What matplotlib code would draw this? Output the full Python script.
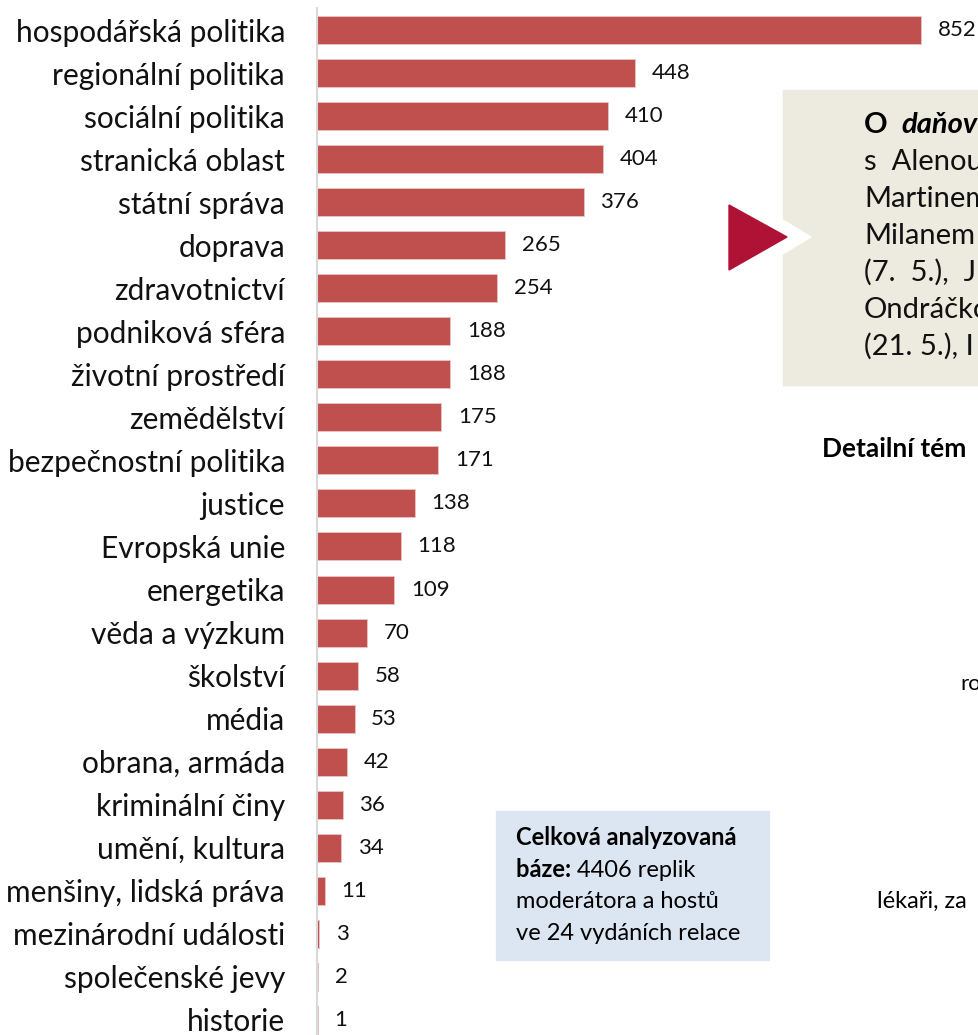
import numpy as np
import matplotlib.pyplot as plt
import matplotlib.patches as mpatch

plt.rcParams['font.family'] = ['Lato', 'DejaVu Sans']

## data
topics = ['hospodářská politika', 'regionální politika', 'sociální politika',
          'stranická oblast', 'státní správa', 'doprava', 'zdravotnictví',
          'podniková sféra', 'životní prostředí', 'zemědělství',
          'bezpečnostní politika', 'justice', 'Evropská unie', 'energetika',
          'věda a výzkum', 'školství', 'média', 'obrana, armáda',
          'kriminální činy', 'umění, kultura', 'menšiny, lidská práva',
          'mezinárodní události', 'společenské jevy', 'historie']
counts = [852, 448, 410, 404, 376, 265, 254, 188, 188, 175, 171, 138, 118,
          109, 70, 58, 53, 42, 36, 34, 11, 3, 2, 1]

# the note box runs off the right edge of the picture; only the visible part is kept
box_lines = ['s  Alenou', 'Martinem', 'Milanem', '(7.  5.),  J', 'Ondráčko', '(21. 5.), I']
base_lines = ['moderátora a hostů', 've 24 vydáních relace']

W, H = 979, 1035
fig = plt.figure(figsize=(W / 100, H / 100), dpi=100)


def fx(px):
    return px / W


def fy(py):
    return 1 - py / H


## bar chart
ax = fig.add_axes([fx(317), 0, fx(W - 317), fy(8)])
ypos = np.arange(len(topics))
ax.barh(ypos, counts, height=0.65, color='#C0504D', edgecolor='#E8C4C3', linewidth=0.6)
ax.set_xlim(0, (W - 317) / 0.709)
ax.set_ylim((H - 30) / 43.04, -(30 - 8) / 43.04)
for spine in ['top', 'right', 'bottom']:
    ax.spines[spine].set_visible(False)
ax.spines['left'].set_color('#D9D9D9')
ax.spines['left'].set_linewidth(1.5)
ax.set_xticks([])
ax.set_yticks(ypos)
ax.set_yticklabels(topics, fontsize=21.5, color='#111111')
ax.tick_params(axis='y', length=0, pad=23)

for i, v in enumerate(counts):
    ax.annotate(str(v), (v, i), xytext=(12, 0), textcoords='offset points',
                ha='left', va='center', fontsize=16, color='#111111')

## beige note box with arrow
fig.patches.append(mpatch.Rectangle((fx(783), fy(385)), fx(W - 783), (385 - 90) / H,
                                    transform=fig.transFigure, color='#EDEADF', zorder=0))
fig.patches.append(mpatch.Polygon([(fx(783), fy(220)), (fx(783), fy(254)), (fx(811), fy(237))],
                                  closed=True, transform=fig.transFigure, color='white', zorder=1))
fig.patches.append(mpatch.Polygon([(fx(729), fy(205)), (fx(729), fy(270)), (fx(787), fy(237))],
                                  closed=True, transform=fig.transFigure, color='#B01236', zorder=1))

renderer = fig.canvas.get_renderer()
t = fig.text(fx(864), fy(133), 'O  ', fontsize=21, fontweight='bold', va='baseline')
bb = t.get_window_extent(renderer)
fig.text(bb.x1 / fig.bbox.width, fy(133), 'daňov', fontsize=21,
         fontweight='bold', fontstyle='italic', va='baseline')
for k, line in enumerate(box_lines):
    fig.text(fx(864), fy(170 + 37 * k), line, fontsize=21, va='baseline', color='#111111')

fig.text(fx(822), fy(457), 'Detailní tém', fontsize=19, fontweight='bold', va='baseline')
fig.text(fx(960), fy(690), 'ro', fontsize=16, va='baseline')
fig.text(fx(877), fy(908), 'lékaři, za', fontsize=17, va='baseline')

## blue info box
fig.patches.append(mpatch.Rectangle((fx(496), fy(960)), fx(769 - 496), (960 - 811) / H,
                                    transform=fig.transFigure, color='#DCE6F2', zorder=0))
fig.text(fx(516), fy(845), 'Celková analyzovaná', fontsize=17, fontweight='bold', va='baseline')
t = fig.text(fx(516), fy(877), 'báze: ', fontsize=17, fontweight='bold', va='baseline')
bb = t.get_window_extent(renderer)
fig.text(bb.x1 / fig.bbox.width, fy(877), '4406 replik', fontsize=17, va='baseline')
for k, line in enumerate(base_lines):
    fig.text(fx(516), fy(908 + 32 * k), line, fontsize=17, va='baseline')

plt.savefig('out.png', dpi=100)
